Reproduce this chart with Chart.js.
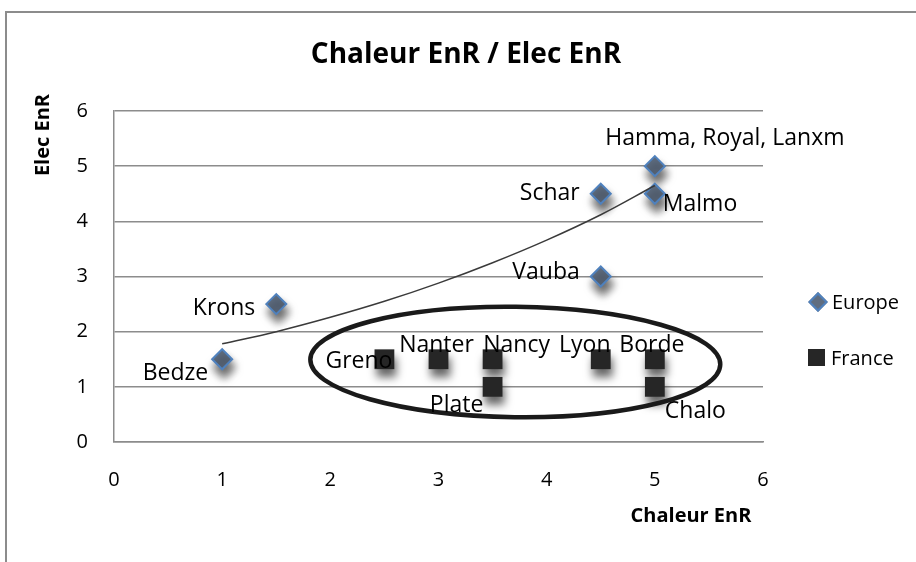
<!DOCTYPE html>
<html>
<head>
<meta charset="utf-8">
<title>Chaleur EnR / Elec EnR</title>
<script src="https://cdn.jsdelivr.net/npm/chart.js@4.4.1/dist/chart.umd.min.js"></script>
<style>
  body { margin: 0; background: #fff; font-family: "Open Sans", sans-serif; color: #000; }
  #wrap { position: relative; width: 916px; height: 562px; overflow: hidden; }
  #frame { position: absolute; left: 5px; top: 11px; width: 1000px; height: 1000px;
           border: 2px solid #8c8c8c; box-sizing: border-box; }
  canvas { position: absolute; left: 0; top: 0; }
  .txt { position: absolute; white-space: nowrap; }
  #title { left: 266px; width: 400px; top: 38px; text-align: center; font-size: 28px; line-height: 28px; font-weight: bold; }
  #xTitle { left: 591px; width: 200px; top: 505px; text-align: center; font-size: 20px; line-height: 20px; font-weight: bold; }
  #yTitle { left: -18px; width: 120px; top: 125px; text-align: center; font-size: 20px; line-height: 20px; font-weight: bold;
            transform: rotate(-90deg); }
  .leg { position: absolute; left: 808px; font-size: 20px; line-height: 20px; }
  .leg span { display: inline-block; vertical-align: middle; }
  .diamond { width: 10px; height: 10px; background: #5f6d80; border: 2px solid #4f81bd; transform: rotate(45deg); margin: 0 7px 0 3px; }
  .square { width: 17px; height: 17px; background: #262626; margin-right: 6px; }
</style>
</head>
<body>
<div id="wrap">
  <div id="frame"></div>
  <canvas id="scatterChart" width="916" height="562"></canvas>
  <div class="txt" id="title">Chaleur EnR / Elec EnR</div>
  <div class="txt" id="yTitle">Elec EnR</div>
  <div class="txt" id="xTitle">Chaleur EnR</div>
  <div class="leg" style="top:290px"><span class="diamond"></span><span>Europe</span></div>
  <div class="leg" style="top:346px"><span class="square"></span><span>France</span></div>
</div>

<script>
// ================= DATA =================
const europeNames = ["Bedze", "Krons", "Schar", "Vauba", "Hamma, Royal, Lanxm", "Malmo"];
const europeX = [1, 1.5, 4.5, 4.5, 5, 5];
const europeY = [1.5, 2.5, 4.5, 3, 5, 4.5];

const franceNames = ["Greno", "Nanter", "Nancy", "Plate", "Lyon", "Borde", "Chalo"];
const franceX = [2.5, 3, 3.5, 3.5, 4.5, 5, 5];
const franceY = [1.5, 1.5, 1.5, 1, 1.5, 1.5, 1];

// trend curve
const trendX = [1, 1.5, 2, 2.5, 3, 3.5, 4, 4.5, 5];
const trendY = [1.78, 2.0, 2.26, 2.55, 2.88, 3.25, 3.66, 4.12, 4.65];

const axisTicks = [0, 1, 2, 3, 4, 5, 6];

// ================= LABEL PLACEMENT (align, dx, dy to baseline) =================
const europeLabelPos = [
  ["right", -14, 21], ["right", -21, 11], ["right", -21, 6],
  ["right", -21, 2], ["center", 70, -21], ["left", 8, 17],
];
const franceLabelPos = [
  ["right", 8, 9], ["center", -2, -7], ["center", 24, -7], ["center", -36, 25],
  ["center", -16, -7], ["center", -3, -7], ["left", 10, 31],
];

// ellipse round the French sites, in axis units
const ring = { cx: 3.71, cy: 1.45, rx: 1.895, ry: 1.0 };

const toPoints = (xs, ys) => xs.map((x, i) => ({ x: x, y: ys[i] }));

// ================= PLUGINS =================
const markerShadow = {
  id: "markerShadow",
  beforeDatasetDraw(chart, args) {
    if (args.meta.type === "scatter" && !chart.data.datasets[args.index].showLine) {
      const ctx = chart.ctx;
      ctx.save();
      ctx.shadowColor = "rgba(0,0,0,0.6)";
      ctx.shadowBlur = 8;
      ctx.shadowOffsetX = 2;
      ctx.shadowOffsetY = 8;
    }
  },
  afterDatasetDraw(chart, args) {
    if (args.meta.type === "scatter" && !chart.data.datasets[args.index].showLine) {
      chart.ctx.restore();
    }
  },
};

const ringAndLabels = {
  id: "ringAndLabels",
  afterDatasetsDraw(chart) {
    const ctx = chart.ctx;
    const xs = chart.scales.x;
    const ys = chart.scales.y;

    // ellipse
    const cx = xs.getPixelForValue(ring.cx);
    const cy = ys.getPixelForValue(ring.cy);
    const rx = xs.getPixelForValue(ring.cx + ring.rx) - cx;
    const ry = cy - ys.getPixelForValue(ring.cy + ring.ry);
    ctx.save();
    ctx.beginPath();
    ctx.ellipse(cx, cy, rx, ry, 0.012, 0, Math.PI * 2);
    ctx.lineWidth = 4.5;
    ctx.strokeStyle = "#1a1a1a";
    ctx.stroke();
    ctx.restore();

    // data labels
    ctx.save();
    ctx.font = '23px "Open Sans"';
    ctx.fillStyle = "#000";
    ctx.textBaseline = "alphabetic";
    const drawLabels = (dsIndex, names, pos) => {
      const meta = chart.getDatasetMeta(dsIndex);
      meta.data.forEach((pt, i) => {
        ctx.textAlign = pos[i][0];
        ctx.fillText(names[i], pt.x + pos[i][1], pt.y + pos[i][2]);
      });
    };
    drawLabels(1, europeNames, europeLabelPos);
    drawLabels(2, franceNames, franceLabelPos);
    ctx.restore();
  },
};

// ================= CHART =================
const gridGray = "#8c8c8c";
const tickFont = { family: "Open Sans", size: 20 };

new Chart(document.getElementById("scatterChart"), {
  type: "scatter",
  data: {
    datasets: [
      {
        label: "Trend",
        data: toPoints(trendX, trendY),
        showLine: true,
        pointRadius: 0,
        borderColor: "#3a3a3a",
        borderWidth: 1.5,
        tension: 0.4,
      },
      {
        label: "Europe",
        data: toPoints(europeX, europeY),
        pointStyle: "rectRot",
        pointRadius: 10,
        backgroundColor: "#5f6d80",
        borderColor: "#4f81bd",
        borderWidth: 2,
      },
      {
        label: "France",
        data: toPoints(franceX, franceY),
        pointStyle: "rect",
        pointRadius: 14,
        backgroundColor: "#262626",
        borderWidth: 0,
      },
    ],
  },
  options: {
    responsive: false,
    animation: false,
    devicePixelRatio: 1,
    events: [],
    layout: { padding: { left: 0, right: 153, top: 111, bottom: 0 } },
    plugins: {
      legend: { display: false },
      tooltip: { enabled: false },
    },
    scales: {
      x: {
        min: 0,
        max: 6,
        afterBuildTicks: (s) => { s.ticks = axisTicks.map((v) => ({ value: v })); },
        afterFit: (s) => { s.height = 120; },
        grid: { display: false },
        border: { display: true, color: gridGray, width: 1.5 },
        ticks: { color: "#000", font: tickFont, padding: 18, maxRotation: 0 },
      },
      y: {
        min: 0,
        max: 6,
        afterBuildTicks: (s) => { s.ticks = axisTicks.map((v) => ({ value: v })); },
        afterFit: (s) => { s.width = 114; },
        grid: { color: gridGray, lineWidth: 1.5, drawTicks: false },
        border: { display: true, color: gridGray, width: 1.5 },
        ticks: { color: "#000", font: tickFont, padding: 26 },
      },
    },
  },
  plugins: [markerShadow, ringAndLabels],
});
</script>
</body>
</html>
